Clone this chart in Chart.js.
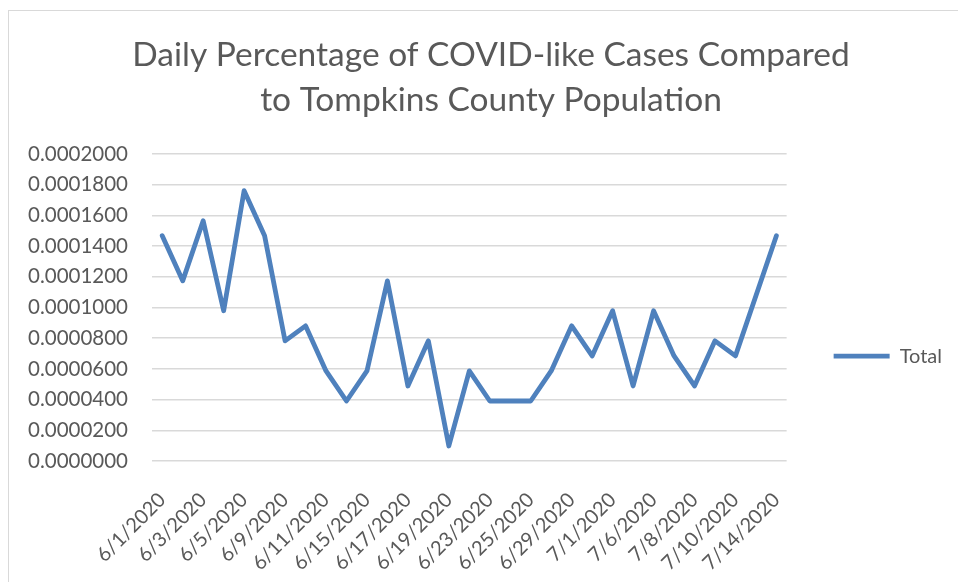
<!DOCTYPE html>
<html lang="en">
  <head>
    <meta charset="UTF-8" />
    <title>Daily Percentage of COVID-like Cases</title>
    <script src="https://cdn.jsdelivr.net/npm/chart.js"></script>
    <style>
      html, body { margin: 0; padding: 0; background: #fff; overflow: hidden; }
      #frame {
        position: absolute; left: 8px; top: 10px;
        border-left: 1px solid #d9d9d9; border-top: 1px solid #d9d9d9;
      }
    </style>
  </head>
  <body>
    <div id="frame">
      <canvas id="covidChart" width="964" height="571"></canvas>
    </div>

    <script>
      const dates = [
        "6/1/2020", "6/2/2020", "6/3/2020", "6/4/2020", "6/5/2020",
        "6/8/2020", "6/9/2020", "6/10/2020", "6/11/2020", "6/12/2020",
        "6/15/2020", "6/16/2020", "6/17/2020", "6/18/2020", "6/19/2020",
        "6/22/2020", "6/23/2020", "6/24/2020", "6/25/2020", "6/26/2020",
        "6/29/2020", "6/30/2020", "7/1/2020", "7/2/2020", "7/6/2020",
        "7/7/2020", "7/8/2020", "7/9/2020", "7/10/2020", "7/13/2020",
        "7/14/2020",
      ];

      const totals = [
        0.0001468, 0.0001174, 0.0001566, 0.0000979, 0.0001762,
        0.0001468, 0.0000783, 0.0000881, 0.0000587, 0.0000391,
        0.0000587, 0.0001174, 0.0000489, 0.0000783, 0.0000098,
        0.0000587, 0.0000391, 0.0000391, 0.0000391, 0.0000587,
        0.0000881, 0.0000685, 0.0000979, 0.0000489, 0.0000979,
        0.0000685, 0.0000489, 0.0000783, 0.0000685, 0.0001077,
        0.0001468,
      ];

      const titleLines = [
        "Daily Percentage of COVID-like Cases Compared",
        "to Tompkins County Population",
      ];

      const grey = "#595959";
      const font = "Lato, 'Open Sans', sans-serif";

      // left padding only centres the title like Excel did; let the y labels
      // still use that strip so they are not clipped
      const widenYLabels = {
        id: "widenYLabels",
        afterLayout(chart) {
          chart.scales.y.left = 0;
        },
      };

      const ctx = document.getElementById("covidChart").getContext("2d");

      new Chart(ctx, {
        type: "line",
        data: {
          labels: dates,
          datasets: [
            {
              label: "Total",
              data: totals,
              borderColor: "#4f81bd",
              backgroundColor: "#4f81bd",
              borderWidth: 4.8,
              borderCapStyle: "round",
              borderJoinStyle: "round",
              pointRadius: 0,
              tension: 0,
            },
          ],
        },
        plugins: [widenYLabels],
        options: {
          responsive: false,
          animation: false,
          layout: { padding: { left: 21, right: 21, top: 0, bottom: 0 } },
          plugins: {
            title: {
              display: true,
              text: titleLines,
              color: grey,
              font: { family: font, size: 33.5, weight: "normal", lineHeight: 1.36 },
              padding: { top: 21, bottom: 31 },
            },
            legend: {
              position: "right",
              fullSize: false,
              title: {
                display: true,
                text: "",
                font: { size: 10, lineHeight: 1 },
                padding: { top: 87, bottom: 0 },
              },
              labels: {
                usePointStyle: true,
                pointStyle: "line",
                pointStyleWidth: 56,
                padding: 47,
                color: grey,
                font: { family: font, size: 20 },
              },
            },
            tooltip: { enabled: false },
          },
          scales: {
            x: {
              offset: true,
              grid: { display: false },
              border: { display: false },
              ticks: {
                autoSkip: false,
                minRotation: 45,
                maxRotation: 45,
                padding: 19,
                color: grey,
                font: { family: font, size: 20 },
                callback: (value, index) => (index % 2 === 0 ? dates[index] : ""),
              },
              afterFit: (scale) => {
                scale.height = 121;
              },
            },
            y: {
              min: 0,
              max: 0.0002,
              border: { display: false },
              grid: { color: "#d9d9d9", lineWidth: 1.5, drawTicks: false },
              ticks: {
                stepSize: 0.00002,
                padding: 24,
                color: grey,
                font: { family: font, size: 20.5 },
                callback: (value) => value.toFixed(7),
              },
              afterFit: (scale) => {
                scale.width = 122;
              },
            },
          },
        },
      });
    </script>
  </body>
</html>
